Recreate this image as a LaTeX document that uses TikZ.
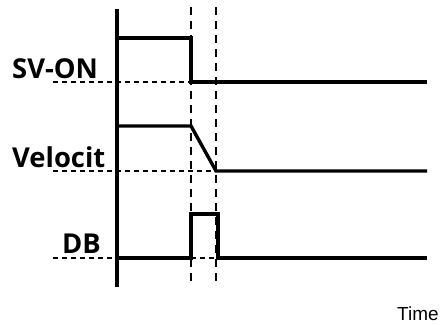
\documentclass[tikz,border=0pt]{standalone}
\usepackage{fontspec}
\newfontfamily\lblfont{Open Sans}
\newfontfamily\timefont{Liberation Sans}
\begin{document}
\begin{tikzpicture}[x=1bp,y=-1bp,
  sig/.style={line width=3.4bp,line join=miter},
  guide/.style={line width=1.8bp,dash pattern=on 5bp off 4bp},
  vguide/.style={line width=1.8bp,dash pattern=on 7.5bp off 6.5bp},
  lbl/.style={inner sep=0pt,anchor=base west,font=\lblfont\bfseries\fontsize{27.5}{30}\selectfont},
  tlbl/.style={inner sep=0pt,anchor=base west,font=\timefont\fontsize{19}{22}\selectfont}]
\useasboundingbox (0,0) rectangle (441,324);
% coordinates
\coordinate (axT) at (117,9);
\coordinate (axB) at (117,287);
\coordinate (d1T) at (191,7);
\coordinate (d1B) at (191,281);
\coordinate (d2T) at (216,7);
\coordinate (d2B) at (216,281);
\coordinate (s0) at (117,38);
\coordinate (s1) at (191,38);
\coordinate (s2) at (191,82);
\coordinate (s3) at (427,82);
\coordinate (sL) at (53,82);
\coordinate (v0) at (117,126);
\coordinate (v1) at (191,126);
\coordinate (v2) at (216,171);
\coordinate (v3) at (427,171);
\coordinate (vL) at (53,171);
\coordinate (b0) at (117,258);
\coordinate (b1) at (191,258);
\coordinate (b2) at (191,214);
\coordinate (b3) at (218,214);
\coordinate (b4) at (218,258);
\coordinate (b5) at (427,258);
\coordinate (bL) at (53,258);
% guides
\draw[vguide] (d1T) -- (d1B);
\draw[vguide] (d2T) -- (d2B);
\draw[guide] (sL) -- (s2);
\draw[guide] (vL) -- (v2);
\draw[guide] (bL) -- (b0);
\draw[guide] (b1) -- (b4);
% axis
\draw[sig] (axT) -- (axB);
% signals
\draw[sig] (s0) -- (s1) -- (s2) -- (s3);
\draw[sig] (v0) -- (v1) -- (v2) -- (v3);
\draw[sig] (b0) -- (b1) -- (b2) -- (b3) -- (b4) -- (b5);
% labels
\node[lbl] (lsv) at (12,78) {SV-ON};
\node[lbl] (lvel) at (12,167) {Velocit};
\node[lbl] (ldb) at (62,253) {DB};
\node[tlbl] (ltime) at (397,320) {Time};
\end{tikzpicture}
\end{document}
